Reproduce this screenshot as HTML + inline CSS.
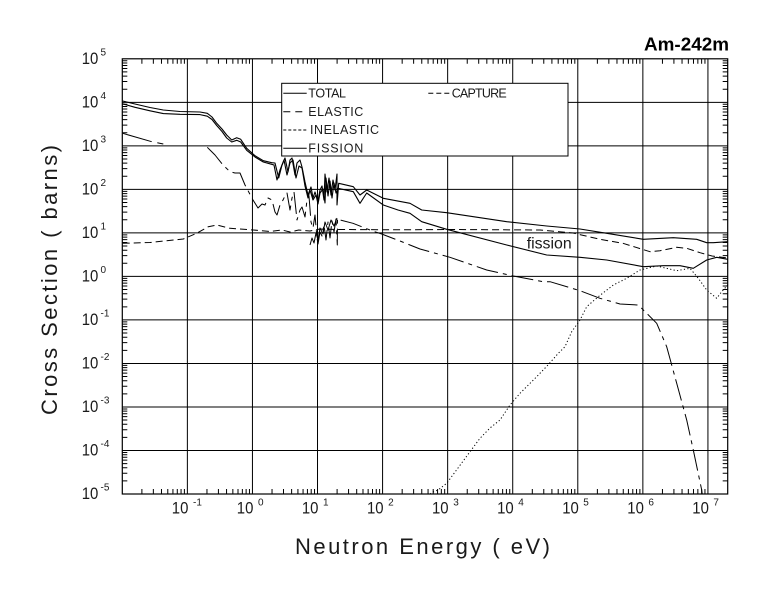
<!DOCTYPE html>
<html>
<head>
<meta charset="utf-8">
<style>
  html,body{margin:0;padding:0;background:#fff;}
  svg{display:block;}
  text{font-family:"Liberation Sans",Arial,sans-serif;fill:#1a1a1a;}
</style>
</head>
<body>
<svg width="780" height="590" viewBox="0 0 780 590" xmlns="http://www.w3.org/2000/svg">
  <defs>
    <clipPath id="pc"><rect x="122.3" y="58.8" width="605.4" height="435.2"/></clipPath>
    <path id="txb" d="M19.59,0v-5M31.05,0v-5M39.18,0v-5M45.48,0v-5M50.63,0v-5M54.99,0v-5M58.76,0v-5M62.09,0v-5" stroke="#000" stroke-width="1" fill="none"/>
    <path id="txt" d="M19.59,0v5M31.05,0v5M39.18,0v5M45.48,0v5M50.63,0v5M54.99,0v5M58.76,0v5M62.09,0v5" stroke="#000" stroke-width="1" fill="none"/>
    <path id="tyl" d="M0,-13.10h5M0,-20.76h5M0,-26.20h5M0,-30.42h5M0,-33.87h5M0,-36.78h5M0,-39.30h5M0,-41.53h5" stroke="#000" stroke-width="1" fill="none"/>
    <path id="tyr" d="M0,-13.10h-5M0,-20.76h-5M0,-26.20h-5M0,-30.42h-5M0,-33.87h-5M0,-36.78h-5M0,-39.30h-5M0,-41.53h-5" stroke="#000" stroke-width="1" fill="none"/>
  </defs>

  <rect width="780" height="590" fill="#fff"/>

  <!-- Title -->
  <text x="644" y="50.7" font-size="18" font-weight="bold" textLength="85" lengthAdjust="spacingAndGlyphs" style="fill:#000">Am-242m</text>

  <!-- grid -->
  <g stroke="#000" stroke-width="1" fill="none">
    <path d="M187.37,58.8V494M252.44,58.8V494M317.51,58.8V494M382.58,58.8V494M447.65,58.8V494M512.72,58.8V494M577.79,58.8V494M642.86,58.8V494M707.93,58.8V494"/>
    <path d="M122.3,102.32H727.7M122.3,145.84H727.7M122.3,189.36H727.7M122.3,232.88H727.7M122.3,276.4H727.7M122.3,319.92H727.7M122.3,363.44H727.7M122.3,406.96H727.7M122.3,450.48H727.7"/>
  </g>

  <!-- ticks -->
  <g>
    <use href="#txb" x="122.3" y="494"/><use href="#txb" x="187.37" y="494"/><use href="#txb" x="252.44" y="494"/>
    <use href="#txb" x="317.51" y="494"/><use href="#txb" x="382.58" y="494"/><use href="#txb" x="447.65" y="494"/>
    <use href="#txb" x="512.72" y="494"/><use href="#txb" x="577.79" y="494"/><use href="#txb" x="642.86" y="494"/>
    <use href="#txt" x="122.3" y="58.8"/><use href="#txt" x="187.37" y="58.8"/><use href="#txt" x="252.44" y="58.8"/>
    <use href="#txt" x="317.51" y="58.8"/><use href="#txt" x="382.58" y="58.8"/><use href="#txt" x="447.65" y="58.8"/>
    <use href="#txt" x="512.72" y="58.8"/><use href="#txt" x="577.79" y="58.8"/><use href="#txt" x="642.86" y="58.8"/>
    <use href="#tyl" x="122.3" y="494"/><use href="#tyl" x="122.3" y="450.48"/><use href="#tyl" x="122.3" y="406.96"/>
    <use href="#tyl" x="122.3" y="363.44"/><use href="#tyl" x="122.3" y="319.92"/><use href="#tyl" x="122.3" y="276.4"/>
    <use href="#tyl" x="122.3" y="232.88"/><use href="#tyl" x="122.3" y="189.36"/><use href="#tyl" x="122.3" y="145.84"/>
    <use href="#tyl" x="122.3" y="102.32"/>
    <use href="#tyr" x="727.7" y="494"/><use href="#tyr" x="727.7" y="450.48"/><use href="#tyr" x="727.7" y="406.96"/>
    <use href="#tyr" x="727.7" y="363.44"/><use href="#tyr" x="727.7" y="319.92"/><use href="#tyr" x="727.7" y="276.4"/>
    <use href="#tyr" x="727.7" y="232.88"/><use href="#tyr" x="727.7" y="189.36"/><use href="#tyr" x="727.7" y="145.84"/>
    <use href="#tyr" x="727.7" y="102.32"/>
  </g>

  <!-- curves -->
  <g clip-path="url(#pc)" fill="none" stroke="#000" stroke-linejoin="round">
    <!-- TOTAL -->
    <polyline stroke-width="1.1" points="122.7,101 135,104 150,107.5 163.3,110 180,111.5 200,112 207.3,113.3 212,117 216.7,123.3 222,129 226.7,135 231.7,140 236.7,137.7 240.7,139.3 246.7,148.3 255,155.7 263.3,160.7 271.7,162.7 275,163 278.7,178 282,165 285,158 288,172 290,160 292,158 295,175 297,163 300,160 302,167 305,182 308,195 311,187 313,198 315,192 318,201 320,190 322,186 324,200 325,174 327,192 329,178 331,195 333,180 335,190 337,174 337,205 338.7,183.3 353.3,186.7 360,195 366.7,190 383.3,198.3 410,203.3 421.7,210 446.7,212.7 506.7,221.7 546.7,226 580,229 606.7,233.3 643.3,239.3 673.3,237.7 696.7,239.3 706.7,242.7 713.3,242.7 727.7,241.7"/>
    <!-- FISSION -->
    <polyline stroke-width="1.1" points="122.7,103.8 135,107.3 150,110.8 163.3,113.6 180,114.3 200,114.6 207.3,116.2 212,119.5 216.7,125.5 222,131.5 226.7,138 231.7,142 236.7,140.3 240.7,142 246.7,150.3 255,157 263.3,162 271.7,164.3 274,165 277,180 280,170 284,160 287,175 290,163 293,160 296,178 299,166 302,168 305,186 308,198 310,190 313,200 316,195 318,204 320,193 323,189 325,203 326,178 328,196 330,181 332,198 334,183 336,193 338,188.3 353.3,191.7 360,203.3 366.7,193 383.3,205 398,210 410,213.3 421.7,221.7 446.7,229.3 506.7,245 546.7,255 580,257.3 606.7,260 643.3,266.7 663.3,265.7 680,265.7 693.3,268.3 706.7,260 716.7,257.3 727.7,259.3"/>
    <!-- CAPTURE -->
    <polyline stroke-width="1" points="122.7,133.3 151.7,141.7"/>
    <polyline stroke-width="1" points="157.3,142.7 163.3,144"/>
    <polyline stroke-width="1" stroke-dasharray="22,5,4,5" points="207.3,147.3 211,151 215,155 223,165 230,171.7 235,173 240,173 245,185 253,200 258,208 262,204 265,205 268,198 272,200 275,212 277,215 280,205 282,202 285,196 287,193 290,210 292,198 294,192 297,220 300,210 302,207 305,217 307,200 309,196 311,222 313,228 315,215 317,238 318,244 320,232 322,236 324,225 326,240 328,222 330,238 332,221 334,232 336,219 337.3,245 337.5,218.3 340,220 353,223.3 371.7,230.7 381.7,234 400,241 420,249 450,257.3 486.7,270 513.3,276 543.3,281.7 550,281.7 580,290.7 600,298.3 620,304 638.3,305 646.7,313.3 656.7,323.3 666.7,346.7 676.7,383.3 686.7,420 693.3,450 701.7,490 702.5,496"/>
    <!-- resonance detail for capture -->
    <polyline stroke-width="1" points="310,245 312,238 314,243 316,233 318,240 320,228 323,234 325,222 328,230 331,220 334,226 337,218"/>
    <!-- ELASTIC -->
    <polyline stroke-width="1" stroke-dasharray="7,4" points="122.7,243.3 150,242.5 183.3,239 196.7,233.3 208.3,226.7 216.7,225 230,228.3 253.3,230 270,231.5 282,230 290,232 298.7,230 310,231 320,229 338,229.5 400,229.8 450,229.5 540,230 573,233 600,239.3 623,243.3 650,251.7 660,250.7 676.7,247.3 686.7,248.3 700,252.7 712,256 727.7,258"/>
    <!-- INELASTIC -->
    <polyline stroke-width="1" stroke-dasharray="1.2,2.3" points="430,494 433,492 436,491 440,488.5 446.7,483.3 458,468 470,451.7 480,438.3 490,428 500,420 510,405 520,393.3 536.7,376.7 548,365 558.3,353.3 565,346.7 571.7,331.7 580,320 586.7,306.7 598.3,296.7 613.3,285 626.7,278.3 640,270 656.7,266 676.7,270.7 690,268.3 698.3,278.3 706.7,290 716.7,298.3 721.7,291.7 727.7,285"/>
  </g>

  <!-- frame -->
  <rect x="122.3" y="58.8" width="605.4" height="435.2" fill="none" stroke="#000" stroke-width="1.2"/>

  <!-- fission label -->
  <text x="526.7" y="248.3" font-size="16" textLength="45" lengthAdjust="spacingAndGlyphs">fission</text>

  <!-- legend -->
  <rect x="281.7" y="83.3" width="286.3" height="72.7" fill="#fff" stroke="#000" stroke-width="1"/>
  <g stroke="#000" stroke-width="1" fill="none">
    <line x1="283.3" y1="93.3" x2="306.7" y2="93.3"/>
    <line x1="283.3" y1="111.7" x2="303" y2="111.7" stroke-dasharray="7,5"/>
    <line x1="283.3" y1="130" x2="307.3" y2="130" stroke-dasharray="3,2"/>
    <line x1="283.3" y1="148.3" x2="306.7" y2="148.3"/>
    <line x1="428.3" y1="93.3" x2="450" y2="93.3" stroke-dasharray="5,3"/>
  </g>
  <g font-size="12.5">
    <text x="308.3" y="97.4" textLength="37.7" lengthAdjust="spacing">TOTAL</text>
    <text x="308.3" y="115.8" textLength="55" lengthAdjust="spacing">ELASTIC</text>
    <text x="310" y="134.1" textLength="69" lengthAdjust="spacing">INELASTIC</text>
    <text x="308.3" y="152.4" textLength="55" lengthAdjust="spacing">FISSION</text>
    <text x="451.7" y="97.4" textLength="55" lengthAdjust="spacing">CAPTURE</text>
  </g>

  <!-- Y tick labels -->
  <g font-size="17">
    <text x="81.7" y="64" textLength="16.6" lengthAdjust="spacingAndGlyphs">10</text>
    <text x="81.7" y="107.3" textLength="16.6" lengthAdjust="spacingAndGlyphs">10</text>
    <text x="81.7" y="150.8" textLength="16.6" lengthAdjust="spacingAndGlyphs">10</text>
    <text x="81.7" y="194.4" textLength="16.6" lengthAdjust="spacingAndGlyphs">10</text>
    <text x="81.7" y="237.9" textLength="16.6" lengthAdjust="spacingAndGlyphs">10</text>
    <text x="81.7" y="281.4" textLength="16.6" lengthAdjust="spacingAndGlyphs">10</text>
    <text x="81.7" y="324.9" textLength="16.6" lengthAdjust="spacingAndGlyphs">10</text>
    <text x="81.7" y="368.4" textLength="16.6" lengthAdjust="spacingAndGlyphs">10</text>
    <text x="81.7" y="412" textLength="16.6" lengthAdjust="spacingAndGlyphs">10</text>
    <text x="81.7" y="455.5" textLength="16.6" lengthAdjust="spacingAndGlyphs">10</text>
    <text x="81.7" y="499" textLength="16.6" lengthAdjust="spacingAndGlyphs">10</text>
  </g>
  <g font-size="10">
    <text x="100.5" y="55.5">5</text>
    <text x="100.5" y="99">4</text>
    <text x="100.5" y="142.5">3</text>
    <text x="100.5" y="186">2</text>
    <text x="100.5" y="229.6">1</text>
    <text x="100.5" y="273.1">0</text>
    <text x="100.5" y="316.6">-1</text>
    <text x="100.5" y="360.1">-2</text>
    <text x="100.5" y="403.7">-3</text>
    <text x="100.5" y="447.2">-4</text>
    <text x="100.5" y="490.7">-5</text>
  </g>

  <!-- X tick labels -->
  <g font-size="17" text-anchor="end">
    <text x="188.4" y="513.3" textLength="16.6" lengthAdjust="spacingAndGlyphs">10</text>
    <text x="253.4" y="513.3" textLength="16.6" lengthAdjust="spacingAndGlyphs">10</text>
    <text x="318.5" y="513.3" textLength="16.6" lengthAdjust="spacingAndGlyphs">10</text>
    <text x="383.6" y="513.3" textLength="16.6" lengthAdjust="spacingAndGlyphs">10</text>
    <text x="448.6" y="513.3" textLength="16.6" lengthAdjust="spacingAndGlyphs">10</text>
    <text x="513.7" y="513.3" textLength="16.6" lengthAdjust="spacingAndGlyphs">10</text>
    <text x="578.8" y="513.3" textLength="16.6" lengthAdjust="spacingAndGlyphs">10</text>
    <text x="643.9" y="513.3" textLength="16.6" lengthAdjust="spacingAndGlyphs">10</text>
    <text x="708.9" y="513.3" textLength="16.6" lengthAdjust="spacingAndGlyphs">10</text>
  </g>
  <g font-size="10">
    <text x="193" y="505.5">-1</text>
    <text x="258" y="505.5">0</text>
    <text x="323" y="505.5">1</text>
    <text x="388.1" y="505.5">2</text>
    <text x="453.2" y="505.5">3</text>
    <text x="518.2" y="505.5">4</text>
    <text x="583.3" y="505.5">5</text>
    <text x="648.4" y="505.5">6</text>
    <text x="713.4" y="505.5">7</text>
  </g>

  <!-- Axis titles -->
  <text x="295" y="554" font-size="22" textLength="255" lengthAdjust="spacing">Neutron Energy ( eV)</text>
  <text transform="translate(57,280) rotate(-90)" x="0" y="0" font-size="22" text-anchor="middle" textLength="270" lengthAdjust="spacing">Cross Section ( barns)</text>
</svg>
</body>
</html>
